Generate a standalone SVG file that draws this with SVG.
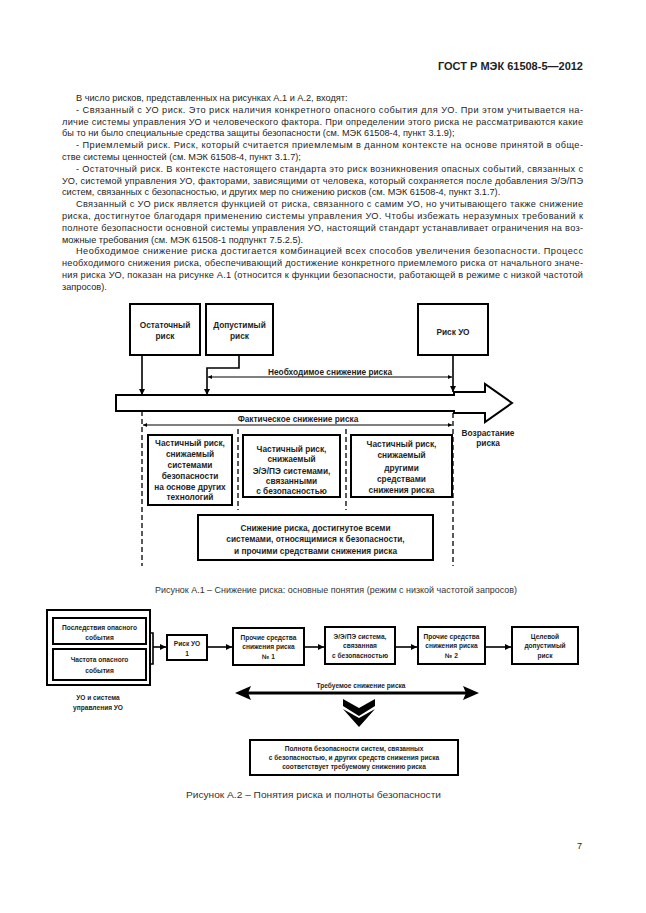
<svg xmlns="http://www.w3.org/2000/svg" width="646" height="913" viewBox="0 0 646 913">
<style>
text{font-family:"Liberation Sans",Arial,sans-serif;fill:#1e1e1e}
.b{font-size:9.2px}
.h{font-size:11px;font-weight:bold}
.cap{font-size:9.2px;fill:#333}
.f1{font-size:8.3px;font-weight:bold;text-anchor:middle}
.f2{font-size:6.6px;font-weight:bold;text-anchor:middle}
.bx{fill:#fff;stroke:#000;stroke-width:2}
.ln{fill:none;stroke:#000;stroke-width:1.6}
.dl{fill:none;stroke:#000;stroke-width:1}
.ds{fill:none;stroke:#000;stroke-width:1.3;stroke-dasharray:5 3}
</style>
<defs>
<marker id="ar" viewBox="0 0 10 10" refX="10" refY="5" markerWidth="6" markerHeight="6" markerUnits="userSpaceOnUse" orient="auto-start-reverse">
<path d="M0,0 L10,5 L0,10 Z" fill="#000"/>
</marker>
<marker id="as" viewBox="0 0 10 10" refX="10" refY="5" markerWidth="5" markerHeight="4" markerUnits="userSpaceOnUse" orient="auto-start-reverse">
<path d="M0,0 L10,5 L0,10 Z" fill="#000"/>
</marker>
</defs>
<rect width="646" height="913" fill="#fff"/>

<g id="page-text">
<text class="h" x="583" y="70" text-anchor="end">ГОСТ Р МЭК 61508-5—2012</text>
<text class="b" x="76" y="101">В число рисков, представленных на рисунках А.1 и А.2, входят:</text>
<text class="b" x="76" y="112.8" textLength="507" lengthAdjust="spacing">- Связанный с УО риск. Это риск наличия конкретного опасного события для УО. При этом учитывается на-</text>
<text class="b" x="62" y="124.6" textLength="521" lengthAdjust="spacing">личие системы управления УО и человеческого фактора. При определении этого риска не рассматриваются какие</text>
<text class="b" x="62" y="136.4">бы то ни было специальные средства защиты безопасности (см. МЭК 61508-4, пункт 3.1.9);</text>
<text class="b" x="76" y="148.2" textLength="507" lengthAdjust="spacing">- Приемлемый риск. Риск, который считается приемлемым в данном контексте на основе принятой в обще-</text>
<text class="b" x="62" y="160">стве системы ценностей (см. МЭК 61508-4, пункт 3.1.7);</text>
<text class="b" x="76" y="171.8" textLength="507" lengthAdjust="spacing">- Остаточный риск. В контексте настоящего стандарта это риск возникновения опасных событий, связанных с</text>
<text class="b" x="62" y="183.6" textLength="521" lengthAdjust="spacing">УО, системой управления УО, факторами, зависящими от человека, который сохраняется после добавления Э/Э/ПЭ</text>
<text class="b" x="62" y="195.4">систем, связанных с безопасностью, и других мер по снижению рисков (см. МЭК 61508-4, пункт 3.1.7).</text>
<text class="b" x="76" y="207.2" textLength="507" lengthAdjust="spacing">Связанный с УО риск является функцией от риска, связанного с самим УО, но учитывающего также снижение</text>
<text class="b" x="62" y="219" textLength="521" lengthAdjust="spacing">риска, достигнутое благодаря применению системы управления УО. Чтобы избежать неразумных требований к</text>
<text class="b" x="62" y="230.8" textLength="521" lengthAdjust="spacing">полноте безопасности основной системы управления УО, настоящий стандарт устанавливает ограничения на воз-</text>
<text class="b" x="62" y="242.6">можные требования (см. МЭК 61508-1 подпункт 7.5.2.5).</text>
<text class="b" x="76" y="254.4" textLength="507" lengthAdjust="spacing">Необходимое снижение риска достигается комбинацией всех способов увеличения безопасности. Процесс</text>
<text class="b" x="62" y="266.2" textLength="521" lengthAdjust="spacing">необходимого снижения риска, обеспечивающий достижение конкретного приемлемого риска от начального значе-</text>
<text class="b" x="62" y="278" textLength="521" lengthAdjust="spacing">ния риска УО, показан на рисунке А.1 (относится к функции безопасности, работающей в режиме с низкой частотой</text>
<text class="b" x="62" y="289.8">запросов).</text>
<text class="cap" x="155" y="593" textLength="362" lengthAdjust="spacingAndGlyphs">Рисунок А.1 – Снижение риска: основные понятия (режим с низкой частотой запросов)</text>
<text class="cap" x="186" y="798" textLength="255" lengthAdjust="spacingAndGlyphs">Рисунок А.2 – Понятия риска и полноты безопасности</text>
<text class="b" x="577" y="849" font-size="10">7</text>
</g>

<!-- Figure A.1 -->
<g id="a1-connectors">
<path class="ln" d="M142,355 V395" marker-end="url(#ar)"/>
<path class="ln" d="M239,355 V368 H207 V395" marker-end="url(#ar)"/>
<path class="ln" d="M453,355 V392" marker-end="url(#ar)"/>
<path class="dl" d="M208,377 H452" marker-start="url(#as)" marker-end="url(#as)"/>
<path class="dl" d="M143,425 H452" marker-start="url(#as)" marker-end="url(#as)"/>
<path class="ds" d="M142,411 V566"/>
<path class="ds" d="M453,413 V566"/>
<path class="ds" d="M238,429 V510"/>
<path class="ds" d="M346,429 V510"/>
</g>
<g id="a1-risk-arrow">
<path d="M116,395 H454 V392 H485 V384 L512,403 L485,422 V413 H454 V411 H116 Z" fill="#fff" stroke="#000" stroke-width="2" stroke-linejoin="miter"/>
</g>
<g id="a1-residual">
<rect class="bx" x="130" y="304" width="70" height="51"/>
<text class="f1" x="165" y="328">Остаточный</text>
<text class="f1" x="165" y="339">риск</text>
</g>
<g id="a1-tolerable">
<rect class="bx" x="206" y="304" width="67" height="51"/>
<text class="f1" x="239.5" y="328">Допустимый</text>
<text class="f1" x="239.5" y="339">риск</text>
</g>
<g id="a1-eucrisk">
<rect class="bx" x="418" y="304" width="70" height="51"/>
<text class="f1" x="453" y="335">Риск УО</text>
</g>
<g id="a1-labels">
<text class="f1" x="330" y="374.5">Необходимое снижение риска</text>
<text class="f1" x="298" y="422">Фактическое снижение риска</text>
<text class="f1" x="488" y="436">Возрастание</text>
<text class="f1" x="488" y="446">риска</text>
</g>
<g id="a1-other-tech">
<rect class="bx" x="148" y="435" width="84" height="70"/>
<text class="f1" x="190" y="446">Частичный риск,</text>
<text class="f1" x="190" y="457">снижаемый</text>
<text class="f1" x="190" y="468">системами</text>
<text class="f1" x="190" y="479">безопасности</text>
<text class="f1" x="190" y="489.5">на основе других</text>
<text class="f1" x="190" y="500">технологий</text>
</g>
<g id="a1-eepe">
<rect class="bx" x="243" y="435" width="97" height="62"/>
<text class="f1" x="291.5" y="452">Частичный риск,</text>
<text class="f1" x="291.5" y="462">снижаемый</text>
<text class="f1" x="291.5" y="474">Э/Э/ПЭ системами,</text>
<text class="f1" x="291.5" y="484">связанными</text>
<text class="f1" x="291.5" y="494">с безопасностью</text>
</g>
<g id="a1-other-means">
<rect class="bx" x="351" y="435" width="101" height="62"/>
<text class="f1" x="401.5" y="447">Частичный риск,</text>
<text class="f1" x="401.5" y="458">снижаемый</text>
<text class="f1" x="401.5" y="471">другими</text>
<text class="f1" x="401.5" y="482">средствами</text>
<text class="f1" x="401.5" y="493">снижения риска</text>
</g>
<g id="a1-total">
<rect class="bx" x="198" y="515" width="235" height="45"/>
<text class="f1" x="315.5" y="531">Снижение риска, достигнутое всеми</text>
<text class="f1" x="315.5" y="542">системами, относящимися к безопасности,</text>
<text class="f1" x="315.5" y="554">и прочими средствами снижения риска</text>
</g>

<!-- Figure A.2 -->
<g id="a2-connectors">
<path class="ln" d="M146,633 H153 V664 H146"/>
<path class="ln" d="M153,647 H166" marker-end="url(#ar)"/>
<path class="ln" d="M207,647 H232" marker-end="url(#ar)"/>
<path class="ln" d="M304,647 H324" marker-end="url(#ar)"/>
<path class="ln" d="M395,647 H417" marker-end="url(#ar)"/>
<path class="ln" d="M485,647 H511" marker-end="url(#ar)"/>
<path d="M248,693 H466" stroke="#000" stroke-width="3.2" fill="none"/>
<path d="M235,693 L251,686 L248,693 L251,700 Z" fill="#000"/>
<path d="M479,693 L463,686 L466,693 L463,700 Z" fill="#000"/>
<path d="M343,699 L359,708 L375,699 L375,706 L359,716 L343,706 Z M343,709 L359,718 L375,709 L359,727 Z" fill="#000"/>
</g>
<g id="a2-euc">
<rect class="bx" x="47" y="610" width="103" height="75"/>
<text class="f2" x="98" y="700">УО и система</text>
<text class="f2" x="98" y="710">управления УО</text>
</g>
<g id="a2-consequence">
<rect class="bx" x="53" y="618" width="93" height="26"/>
<text class="f2" x="99.5" y="629.5">Последствия опасного</text>
<text class="f2" x="99.5" y="639.5">события</text>
</g>
<g id="a2-frequency">
<rect class="bx" x="53" y="649" width="93" height="31"/>
<text class="f2" x="99.5" y="661.5">Частота опасного</text>
<text class="f2" x="99.5" y="672.5">события</text>
</g>
<g id="a2-eucrisk">
<rect class="bx" x="167" y="635" width="40" height="25"/>
<text class="f2" x="187" y="646">Риск УО</text>
<text class="f2" x="187" y="655.5">1</text>
</g>
<g id="a2-other1">
<rect class="bx" x="233" y="628" width="71" height="37"/>
<text class="f2" x="268.5" y="639.5">Прочие средства</text>
<text class="f2" x="268.5" y="649">снижения риска</text>
<text class="f2" x="268.5" y="658.5">№ 1</text>
</g>
<g id="a2-eepe">
<rect class="bx" x="325" y="627" width="70" height="37"/>
<text class="f2" x="360" y="638.5">Э/Э/ПЭ система,</text>
<text class="f2" x="360" y="648">связанная</text>
<text class="f2" x="360" y="657.5">с безопасностью</text>
</g>
<g id="a2-other2">
<rect class="bx" x="418" y="627" width="67" height="37"/>
<text class="f2" x="451.5" y="638.5">Прочие средства</text>
<text class="f2" x="451.5" y="648">снижения риска</text>
<text class="f2" x="451.5" y="657.5">№ 2</text>
</g>
<g id="a2-target">
<rect class="bx" x="512" y="627" width="66" height="37"/>
<text class="f2" x="545" y="638.5">Целевой</text>
<text class="f2" x="545" y="648">допустимый</text>
<text class="f2" x="545" y="657.5">риск</text>
</g>
<g id="a2-label">
<text class="f2" x="361" y="687.5">Требуемое снижение риска</text>
</g>
<g id="a2-integrity">
<rect class="bx" x="250" y="740" width="208" height="35"/>
<text class="f2" x="354" y="750.5">Полнота безопасности систем, связанных</text>
<text class="f2" x="354" y="759.5">с безопасностью, и других средств снижения риска</text>
<text class="f2" x="354" y="768.5">соответствует требуемому снижению риска</text>
</g>
</svg>
